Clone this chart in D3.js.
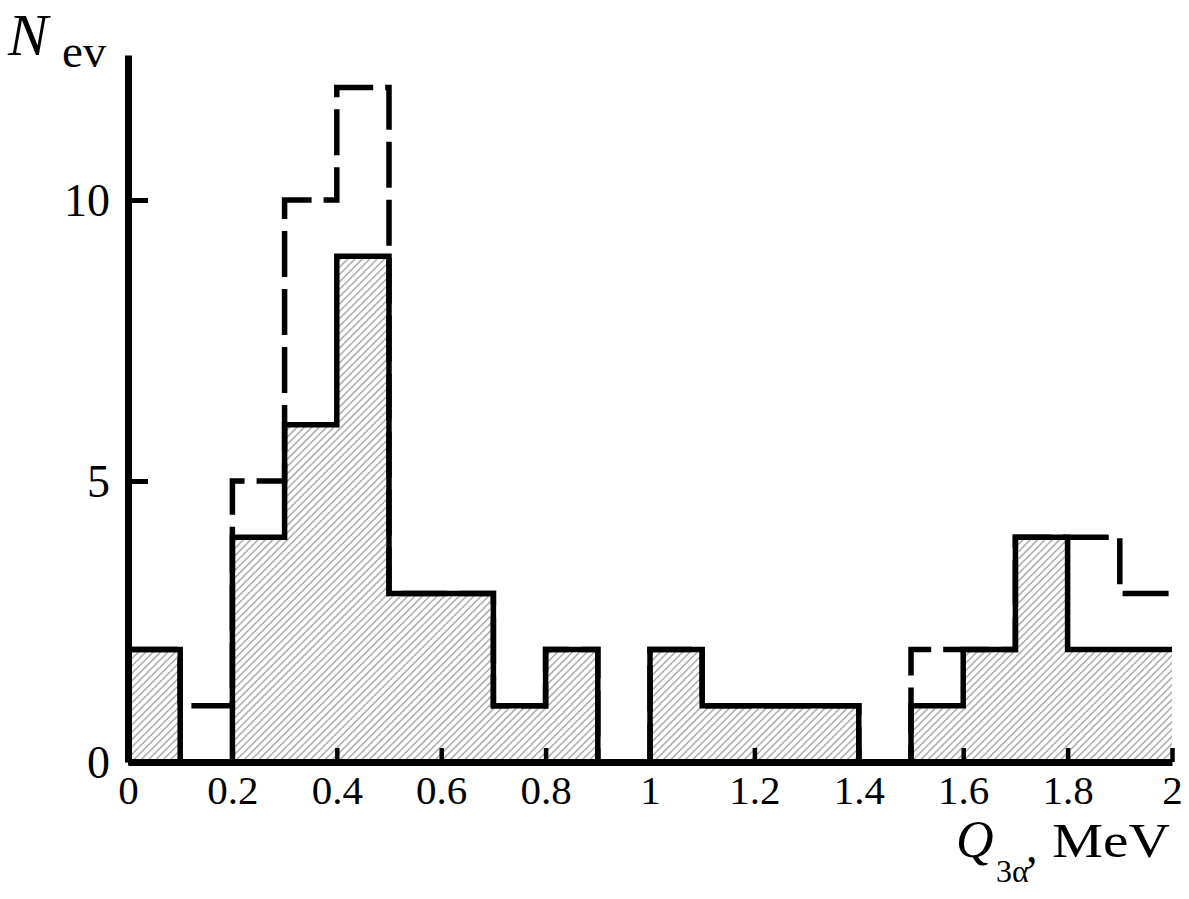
<!DOCTYPE html>
<html><head><meta charset="utf-8">
<script src="https://cdn.jsdelivr.net/npm/d3@7/dist/d3.min.js"></script>
<style>html,body{margin:0;padding:0;background:#fff;} svg{display:block;}</style>
</head><body><svg id="c" width="1189" height="899"></svg>
<script>
const binEdges = [0,0.1,0.2,0.3,0.4,0.5,0.6,0.7,0.8,0.9,1.0,1.1,1.2,1.3,1.4,1.5,1.6,1.7,1.8,1.9,2.0];
const solidCounts  = [2,0,4,6,9,3,3,1,2,0,2,1,1,1,0,1,2,4,2,2];
const dashedCounts = [2,1,5,10,12,3,3,1,2,0,2,1,1,1,0,2,2,4,4,3];
const xTickValues = [0,0.2,0.4,0.6,0.8,1,1.2,1.4,1.6,1.8,2];
const xTickLabels = ["0","0.2","0.4","0.6","0.8","1","1.2","1.4","1.6","1.8","2"];
const yTickValues = [0,5,10];
const yTickLabels = ["0","5","10"];

const FONT = "'Liberation Serif','Times New Roman',serif";
const svg = d3.select("#c");
svg.append("rect").attr("width",1189).attr("height",899).attr("fill","#fff");

const x = d3.scaleLinear().domain([0,2]).range([128,1172]);
const y = d3.scaleLinear().domain([0,12.58]).range([762,55]);

const defs = svg.append("defs");
const pat = defs.append("pattern").attr("id","hatch")
  .attr("patternUnits","userSpaceOnUse").attr("width",5.2).attr("height",5.2)
  .attr("patternTransform","rotate(45)");
pat.append("line").attr("x1",2.6).attr("y1",-1).attr("x2",2.6).attr("y2",6.2)
  .attr("stroke","#666").attr("stroke-width",0.85);

function stepPoints(counts){
  const pts = [[binEdges[0],0]];
  counts.forEach((c,i)=>{ pts.push([binEdges[i],c]); pts.push([binEdges[i+1],c]); });
  return pts;
}
const line = d3.line().x(d=>x(d[0])).y(d=>y(d[1])).curve(d3.curveLinear);
const area = d3.area().x(d=>x(d[0])).y0(y(0)).y1(d=>y(d[1]));

svg.append("path").attr("d",area(stepPoints(solidCounts))).attr("fill","url(#hatch)");

svg.append("path").attr("d",line(stepPoints(dashedCounts)))
  .attr("fill","none").attr("stroke","#000").attr("stroke-width",5.5)
  .attr("stroke-dasharray","46,12").attr("stroke-linejoin","miter");

svg.append("path").attr("d",line(stepPoints(solidCounts)))
  .attr("fill","none").attr("stroke","#000").attr("stroke-width",5.5)
  .attr("stroke-linejoin","miter");

// axes
const xAxis = d3.axisBottom(x).tickValues(xTickValues)
  .tickFormat((d,i)=>xTickLabels[i]).tickSizeInner(-14).tickSizeOuter(0).tickPadding(13);
const gx = svg.append("g").attr("transform",`translate(0,${y(0)})`).call(xAxis);
gx.select(".domain").attr("stroke","#000").attr("stroke-width",7);
gx.selectAll(".tick line").attr("stroke","#000").attr("stroke-width",4.5);
gx.selectAll(".tick text").attr("font-family",FONT).attr("font-size",41).attr("fill","#000");

const yAxis = d3.axisLeft(y).tickValues(yTickValues)
  .tickFormat((d,i)=>yTickLabels[i]).tickSizeInner(-20).tickSizeOuter(0).tickPadding(18);
const gy = svg.append("g").attr("transform",`translate(${x(0)},0)`).call(yAxis);
gy.select(".domain").attr("stroke","#000").attr("stroke-width",7);
gy.selectAll(".tick line").attr("stroke","#000").attr("stroke-width",5);
gy.selectAll(".tick text").attr("font-family",FONT).attr("font-size",46).attr("fill","#000").attr("dy","0.34em");

// axis titles
svg.append("text").attr("x",8).attr("y",55).attr("font-family",FONT).attr("font-style","italic")
  .attr("font-size",60).attr("fill","#000").text("N");
svg.append("text").attr("x",62).attr("y",67).attr("font-family",FONT)
  .attr("font-size",47).attr("fill","#000").text("ev");

svg.append("text").attr("x",956).attr("y",857).attr("font-family",FONT).attr("font-style","italic")
  .attr("font-size",52).attr("fill","#000").text("Q");
svg.append("text").attr("x",996).attr("y",882).attr("font-family",FONT)
  .attr("font-size",32).attr("fill","#000").text("3α");
svg.append("text").attr("x",1026).attr("y",862).attr("font-family",FONT)
  .attr("font-size",46).attr("fill","#000").text(",");
svg.append("text").attr("x",1052).attr("y",857).attr("font-family",FONT)
  .attr("font-size",48).attr("fill","#000")
  .attr("textLength",118).attr("lengthAdjust","spacingAndGlyphs").text("MeV");
</script></body></html>
